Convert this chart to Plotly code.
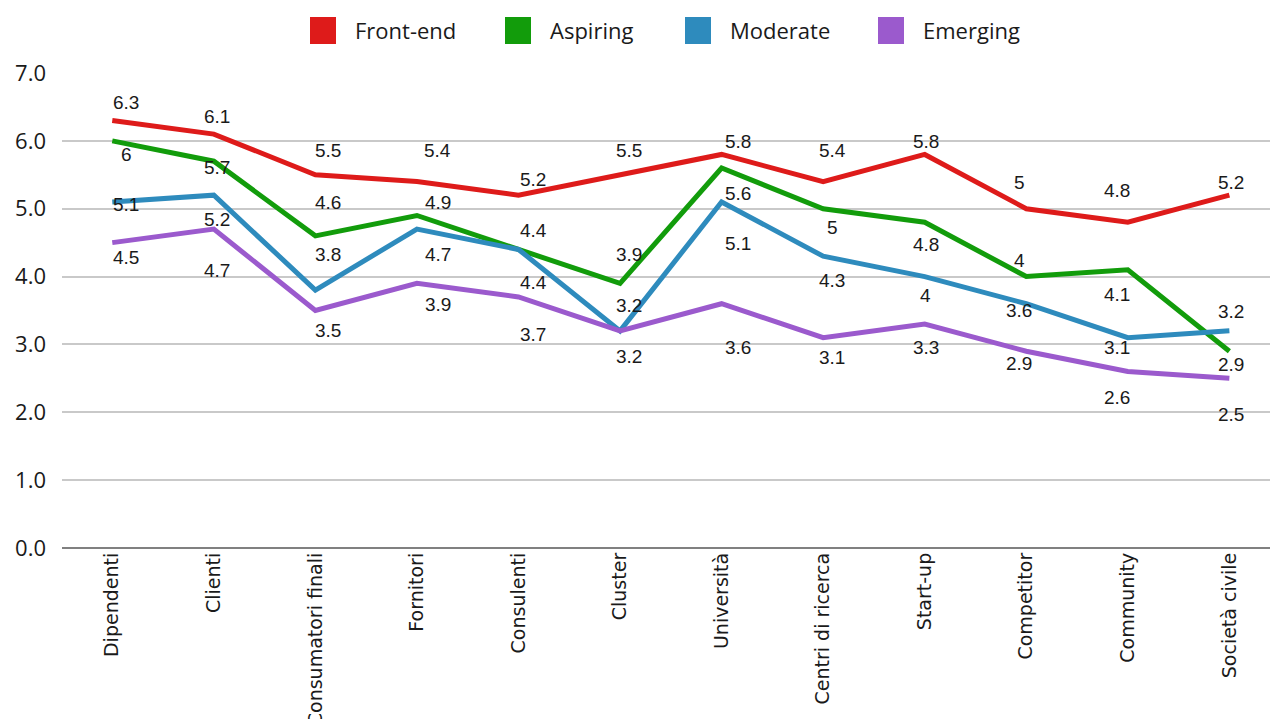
import plotly.graph_objects as go

categories = ["Dipendenti", "Clienti", "Consumatori finali", "Fornitori", "Consulenti",
              "Cluster", "Università", "Centri di ricerca", "Start-up", "Competitor",
              "Community", "Società civile"]
series_names = ["Front-end", "Aspiring", "Moderate", "Emerging"]
front_end = [6.3, 6.1, 5.5, 5.4, 5.2, 5.5, 5.8, 5.4, 5.8, 5.0, 4.8, 5.2]
aspiring = [6.0, 5.7, 4.6, 4.9, 4.4, 3.9, 5.6, 5.0, 4.8, 4.0, 4.1, 2.9]
moderate = [5.1, 5.2, 3.8, 4.7, 4.4, 3.2, 5.1, 4.3, 4.0, 3.6, 3.1, 3.2]
emerging = [4.5, 4.7, 3.5, 3.9, 3.7, 3.2, 3.6, 3.1, 3.3, 2.9, 2.6, 2.5]
y_ticks = [0, 1, 2, 3, 4, 5, 6, 7]

# styles
colors = ["#DE1B1A", "#129C0B", "#2E8BBD", "#9B5ACD"]
# data-label offsets (pixels) as drawn in the reference
label_xshift = [14, 3, 13, 21, 15, 9, 16, 9, 1, -7, -11, 2]
label_yshift = [
    [18, 18, 24, 31, 16, 24, 13, 31, 13, 26, 32, 13],
    [-14, -6, 33, 13, 19, 29, -25, -19, -22, 16, -25, -13],
    [-3, -24, 36, -25, -33, 25, -42, -24, -19, -7, -10, 19],
    [-15, -41, -20, -21, -38, -26, -44, -20, -23, -12, -26, -36],
]

W, H = 1270, 719
ML, MR, MT, MB = 62, 0, 73, 171
PW, PH = W - ML - MR, H - MT - MB

def px2paper(x, y):
    return (x - ML) / PW, (H - MB - y) / PH

all_series = [front_end, aspiring, moderate, emerging]
xs = list(range(len(categories)))

fig = go.Figure()
annotations = []
for s, (name, vals, col) in enumerate(zip(series_names, all_series, colors)):
    fig.add_trace(go.Scatter(
        x=xs, y=vals, mode="lines", name=name, showlegend=False,
        line=dict(color=col, width=5),
    ))
    for i, v in enumerate(vals):
        annotations.append(dict(
            x=i, y=v, xref="x", yref="y", text=f"{v:g}", showarrow=False,
            xshift=label_xshift[i], yshift=label_yshift[s][i],
            font=dict(family="Liberation Sans, Arial", size=19, color="#1a1a1a"),
            xanchor="center", yanchor="middle",
        ))

# custom legend (square swatches)
legend_swatch_x = [310, 505, 685, 878]
shapes = []
for name, col, sx in zip(series_names, colors, legend_swatch_x):
    x0, y0 = px2paper(sx, 44)
    x1, y1 = px2paper(sx + 26, 17)
    shapes.append(dict(type="rect", xref="paper", yref="paper", x0=x0, y0=y0, x1=x1, y1=y1,
                       fillcolor=col, line=dict(width=0)))
    tx, ty = px2paper(sx + 43, 30)
    annotations.append(dict(x=tx, y=ty, xref="paper", yref="paper", text=name, showarrow=False,
                            xanchor="left", yanchor="middle",
                            font=dict(family="Open Sans", size=22, color="#1a1a1a")))

fig.update_layout(
    width=W, height=H,
    margin=dict(l=ML, r=MR, t=MT, b=MB),
    paper_bgcolor="white", plot_bgcolor="white",
    showlegend=False,
    annotations=annotations,
    shapes=shapes,
    xaxis=dict(
        tickmode="array", tickvals=xs, ticktext=categories,
        range=[-0.495, 11.40], tickangle=-90, showgrid=False, zeroline=False,
        showline=False, ticks="", automargin=False,
        tickfont=dict(family="DejaVu Sans", size=19, color="#1a1a1a"),
    ),
    yaxis=dict(
        range=[0, 7], tickmode="array", tickvals=y_ticks,
        ticktext=[f"{t:.1f}" for t in y_ticks],
        showgrid=True, gridcolor="#c9c9c9", gridwidth=1.5,
        zeroline=True, zerolinecolor="#808080", zerolinewidth=1.5,
        showline=False, ticks="", ticklabelstandoff=15, automargin=False,
        tickfont=dict(family="Open Sans", size=22, color="#1a1a1a"),
    ),
)

fig.write_html(
    "out.html",
    config={"displayModeBar": False},
    post_script="document.body.style.margin='0';document.body.style.overflow='hidden';",
)
